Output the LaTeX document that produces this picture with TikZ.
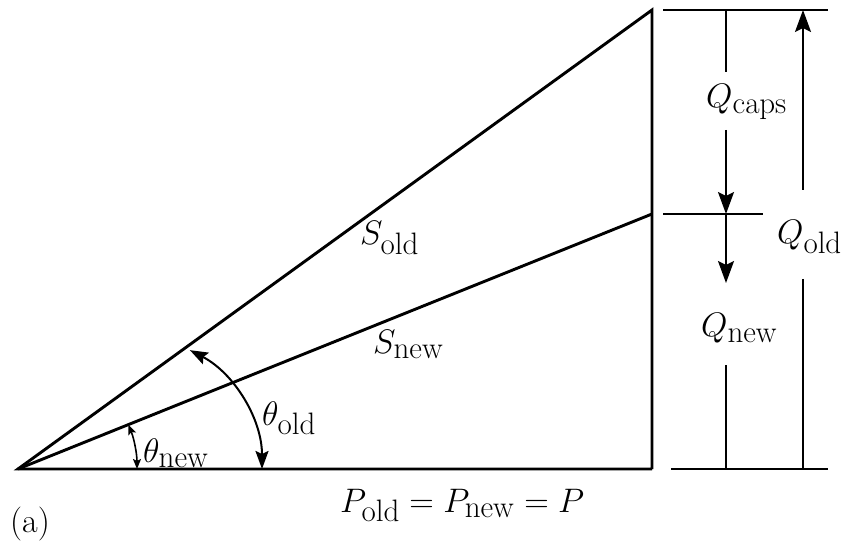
\RequirePackage{fix-cm}
\documentclass[tikz,border=0pt]{standalone}
\usetikzlibrary{arrows.meta}
\DeclareMathSizes{34}{34}{31}{24}
\begin{document}
\begin{tikzpicture}[x=1pt,y=-1pt,
  main/.style={line width=2.9pt, line join=miter},
  dimline/.style={line width=2pt},
  bigarr/.style={-{Stealth[length=22pt,width=16pt,inset=4pt]}},
  angarr/.style={{Stealth[length=18pt,width=13pt,inset=3pt]}-{Stealth[length=18pt,width=13pt,inset=3pt]}},
  smallarr/.style={{Stealth[length=10pt,width=8pt,inset=2pt]}-{Stealth[length=10pt,width=8pt,inset=2pt]}},
  lbl/.style={anchor=base west, inner sep=0pt, font=\fontsize{34}{40}\selectfont}]
\useasboundingbox (0,0) rectangle (854,545);
% triangle vertices
\coordinate (O) at (18,469);
\coordinate (A) at (652,10);
\coordinate (B) at (652,214);
\coordinate (C) at (652,469);
\draw[main] (C) -- (O) -- (A) -- (C);
\draw[main] (O) -- (B);
% dimension extension lines
\coordinate (t1) at (663,10);  \coordinate (t2) at (828,10);
\coordinate (m1) at (663,214); \coordinate (m2) at (763,214);
\coordinate (b1) at (671,469); \coordinate (b2) at (828,469);
\draw[dimline] (t1) -- (t2);
\draw[dimline] (m1) -- (m2);
\draw[dimline] (b1) -- (b2);
% Q_caps
\coordinate (qc0) at (726,10);  \coordinate (qc1) at (726,72);
\coordinate (qc2) at (726,130); \coordinate (qc3) at (726,214);
\draw[dimline] (qc0) -- (qc1);
\draw[dimline,bigarr] (qc2) -- (qc3);
% Q_new
\coordinate (qn0) at (726,214); \coordinate (qn1) at (726,283);
\coordinate (qn2) at (726,365); \coordinate (qn3) at (726,469);
\draw[dimline,bigarr] (qn0) -- (qn1);
\draw[dimline] (qn2) -- (qn3);
% Q_old
\coordinate (qo0) at (803,190); \coordinate (qo1) at (803,10);
\coordinate (qo2) at (803,279); \coordinate (qo3) at (803,469);
\draw[dimline,bigarr] (qo0) -- (qo1);
\draw[dimline] (qo2) -- (qo3);
% angle arcs
\coordinate (a0) at (262,469);
\draw[dimline,angarr] (a0) arc[start angle=0,end angle=-62.5,radius=134];
\coordinate (a1) at (137,469);
\draw[line width=1.6pt,smallarr] (a1) arc[start angle=0,end angle=-21.9,radius=119];
% labels
\node[lbl] (Sold) at (360,245) {$S_{\mathrm{old}}$};
\node[lbl] (Snew) at (373,353) {$S_{\mathrm{new}}$};
\node[lbl] (thold) at (262,425) {$\theta_{\mathrm{old}}$};
\node[lbl] (thnew) at (143,462) {$\theta_{\mathrm{new}}$};
\node[lbl] (P) at (340,512) {$P_{\mathrm{old}}=P_{\mathrm{new}}=P$};
\node[lbl] (Qcaps) at (706,108) {$Q_{\mathrm{caps}}$};
\node[lbl] (Qnew) at (701,337) {$Q_{\mathrm{new}}$};
\node[lbl] (Qold) at (777,244) {$Q_{\mathrm{old}}$};
\node[lbl] (a) at (10,532) {(a)};
\end{tikzpicture}
\end{document}
